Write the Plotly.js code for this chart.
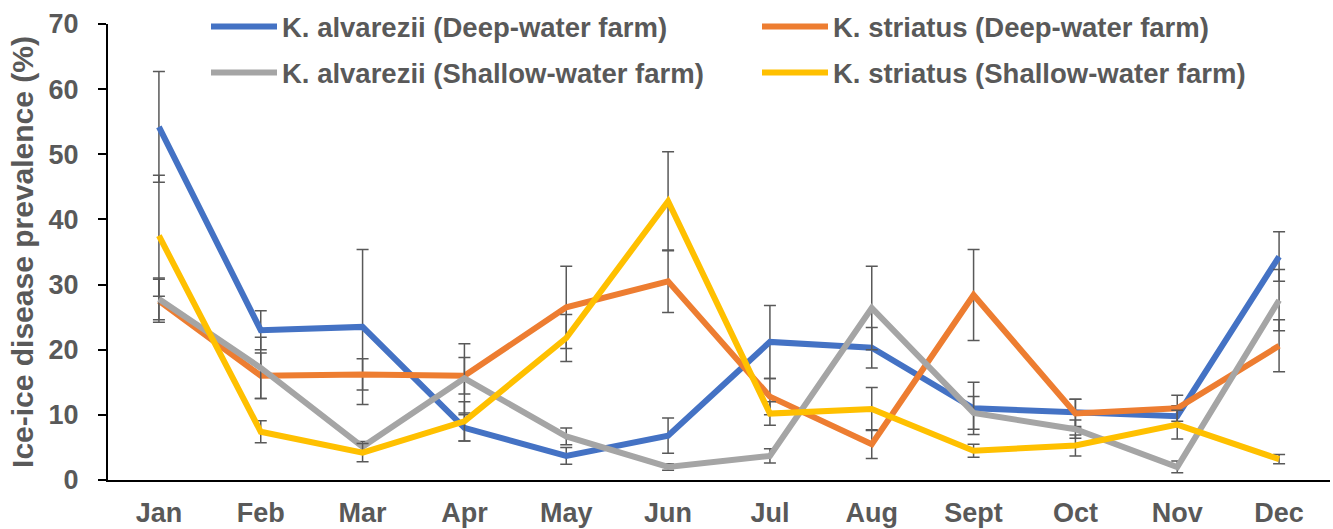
<!DOCTYPE html>
<html>
<head>
<meta charset="utf-8">
<script src="https://cdn.plot.ly/plotly-3.0.1.min.js"></script>
<style>html,body{margin:0;padding:0;background:#fff;}#chart{width:1333px;height:529px;}</style>
</head>
<body>
<div id="chart"></div>
<script>
const months = ["Jan","Feb","Mar","Apr","May","Jun","Jul","Aug","Sept","Oct","Nov","Dec"];

const alvDeep = [54.2, 23.0, 23.5, 8.0, 3.7, 6.8, 21.2, 20.3, 11.0, 10.3, 9.8, 34.3];
const alvDeepErr = [8.5, 3.0, 11.9, 2.0, 1.3, 2.7, 5.6, 3.1, 4.0, 2.1, 1.6, 3.8];

const strDeep = [27.5, 16.0, 16.2, 16.0, 26.5, 30.5, 12.8, 5.5, 28.4, 10.2, 11.0, 20.6];
const strDeepErr = [3.3, 3.5, 2.4, 2.8, 6.3, 4.8, 2.8, 2.2, 7.0, 2.2, 2.0, 4.0];

const alvShallow = [27.8, 17.2, 5.1, 15.6, 6.7, 2.0, 3.7, 26.4, 10.3, 7.8, 2.0, 27.6];
const alvShallowErr = [3.2, 4.7, 0.8, 5.3, 1.3, 0.5, 1.1, 6.4, 2.5, 1.4, 0.9, 4.7];

const strShallow = [37.5, 7.4, 4.2, 9.0, 21.8, 42.8, 10.2, 10.9, 4.5, 5.3, 8.5, 3.2];
const strShallowErr = [9.3, 1.7, 1.4, 3.0, 3.6, 7.6, 1.8, 3.3, 1.0, 1.6, 2.2, 0.7];

const names = [
  "K. alvarezii (Deep-water farm)",
  "K. striatus (Deep-water farm)",
  "K. alvarezii (Shallow-water farm)",
  "K. striatus (Shallow-water farm)"
];
const colors = ["#4472C4", "#ED7D31", "#A5A5A5", "#FFC000"];
const series = [alvDeep, strDeep, alvShallow, strShallow];
const errs = [alvDeepErr, strDeepErr, alvShallowErr, strShallowErr];
const legendIds = ["legend", "legend", "legend2", "legend2"];

const traces = series.map((ys, i) => ({
  type: "scatter",
  mode: "lines",
  x: months,
  y: ys,
  name: names[i],
  legend: legendIds[i],
  line: {color: colors[i], width: 6},
  error_y: {type: "data", array: errs[i], visible: true, color: "#595959", thickness: 1.5, width: 6}
}));

const FONT = "Liberation Sans, Arial, sans-serif";
const legendFont = {family: FONT, size: 27.5, color: "#595959", weight: "bold"};

function legendBox(topPx) {
  return {
    orientation: "h",
    xref: "container", yref: "container",
    x: 206/1333, y: 1 - topPx/529,
    xanchor: "left", yanchor: "top",
    itemwidth: 66,
    entrywidth: 470, entrywidthmode: "pixels",
    font: legendFont,
    bgcolor: "rgba(0,0,0,0)",
    traceorder: "normal"
  };
}

const layout = {
  width: 1333,
  height: 529,
  margin: {l: 108, r: 3, t: 24, b: 49, autoexpand: false},
  paper_bgcolor: "#ffffff",
  plot_bgcolor: "#ffffff",
  showlegend: true,
  font: {family: FONT, color: "#595959"},
  xaxis: {
    type: "category",
    range: [-0.5, 11.5],
    showline: true,
    linecolor: "#000000",
    linewidth: 2,
    showgrid: false,
    zeroline: false,
    ticks: "",
    ticklabelstandoff: 8,
    tickfont: {family: FONT, size: 27, color: "#595959", weight: "bold"}
  },
  yaxis: {
    range: [0, 70],
    dtick: 10,
    showline: true,
    linecolor: "#000000",
    linewidth: 2,
    showgrid: false,
    zeroline: false,
    ticks: "outside",
    ticklen: 8,
    tickwidth: 2,
    tickcolor: "#000000",
    ticklabelstandoff: 14,
    tickfont: {family: FONT, size: 27, color: "#595959", weight: "bold"},
    title: {
      text: "Ice-ice disease prevalence (%)",
      standoff: 6,
      font: {family: FONT, size: 30, color: "#595959", weight: "bold"}
    }
  },
  legend: legendBox(2),
  legend2: legendBox(48)
};

Plotly.newPlot("chart", traces, layout, {displayModeBar: false, staticPlot: true});
</script>
</body>
</html>
